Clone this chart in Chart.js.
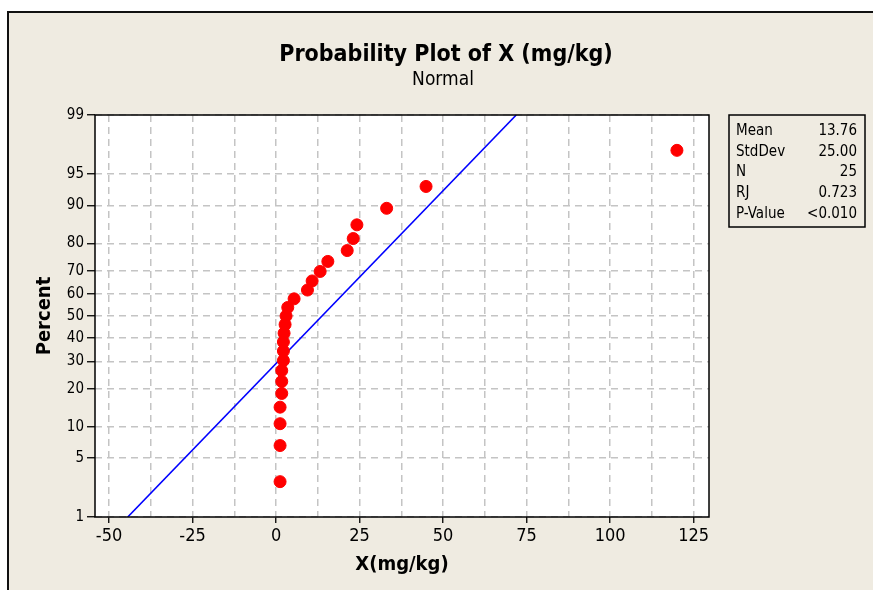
<!DOCTYPE html>
<html>
<head>
<meta charset="utf-8">
<script src="https://cdn.jsdelivr.net/npm/chart.js@4.4.1/dist/chart.umd.min.js"></script>
<style>
  html, body { margin: 0; padding: 0; background: #fff; }
  canvas { display: block; }
</style>
</head>
<body>
<canvas id="probPlot" width="874" height="590"></canvas>
<script>
// observed values (mg/kg), sorted
const xValues = [1.2, 1.2, 1.2, 1.2, 1.7, 1.7, 1.7, 2.2, 2.2, 2.2, 2.4, 2.7, 3.0,
                 3.5, 5.4, 9.4, 10.8, 13.2, 15.5, 21.3, 23.1, 24.2, 33.1, 44.9, 120.0];
// plotting positions (percent)
const percentValues = [2.76, 6.69, 10.63, 14.57, 18.50, 22.44, 26.38, 30.31, 34.25,
                       38.19, 42.13, 46.06, 50.00, 53.94, 57.87, 61.81, 65.75, 69.69,
                       73.62, 77.56, 81.50, 85.43, 89.37, 93.31, 97.24];
// fitted normal line end points
const fitX = [-44.4, 71.9];
const fitPercent = [1, 99];

const percentTicks = [1, 5, 10, 20, 30, 40, 50, 60, 70, 80, 90, 95, 99];
const xGrid = [-50, -37.5, -25, -12.5, 0, 12.5, 25, 37.5, 50, 62.5, 75, 87.5, 100, 112.5, 125];
const xMin = -54.2, xMax = 129.6;

const statLabels = ['Mean', 'StdDev', 'N', 'RJ', 'P-Value'];
const statValues = ['13.76', '25.00', '25', '0.723', '<0.010'];

const FONT = '"DejaVu Sans Condensed", "DejaVu Sans", sans-serif';
const BEIGE = '#efebe1';

// inverse normal cdf (Acklam) - used only to place the probability axis
function probit(p) {
  const a = [-3.969683028665376e+01, 2.209460984245205e+02, -2.759285104469687e+02,
             1.383577518672690e+02, -3.066479806614716e+01, 2.506628277459239e+00];
  const b = [-5.447609879822406e+01, 1.615858368580409e+02, -1.556989798598866e+02,
             6.680131188771972e+01, -1.328068155288572e+01];
  const c = [-7.784894002430293e-03, -3.223964580411365e-01, -2.400758277161838e+00,
             -2.549732539343734e+00, 4.374664141464968e+00, 2.938163982698783e+00];
  const d = [7.784695709041462e-03, 3.224671290700398e-01, 2.445134137142996e+00,
             3.754408661907416e+00];
  const pl = 0.02425;
  let q, r;
  if (p < pl) {
    q = Math.sqrt(-2 * Math.log(p));
    return (((((c[0]*q+c[1])*q+c[2])*q+c[3])*q+c[4])*q+c[5]) / ((((d[0]*q+d[1])*q+d[2])*q+d[3])*q+1);
  }
  if (p <= 1 - pl) {
    q = p - 0.5; r = q * q;
    return (((((a[0]*r+a[1])*r+a[2])*r+a[3])*r+a[4])*r+a[5])*q / (((((b[0]*r+b[1])*r+b[2])*r+b[3])*r+b[4])*r+1);
  }
  q = Math.sqrt(-2 * Math.log(1 - p));
  return -(((((c[0]*q+c[1])*q+c[2])*q+c[3])*q+c[4])*q+c[5]) / ((((d[0]*q+d[1])*q+d[2])*q+d[3])*q+1);
}
const z = pct => probit(pct / 100);

// background, frame, titles and the stats box
const decorations = {
  id: 'decorations',
  beforeDraw(chart) {
    const c = chart.ctx;
    c.save();
    c.fillStyle = '#fff';
    c.fillRect(0, 0, chart.width, chart.height);
    c.fillStyle = BEIGE;
    c.fillRect(7, 11, 866, chart.height - 11);
    c.strokeStyle = '#111';
    c.lineWidth = 2;
    c.beginPath();
    c.moveTo(7, 12); c.lineTo(873, 12);
    c.moveTo(8, 11); c.lineTo(8, chart.height);
    c.stroke();
    // plot area white
    const a = chart.chartArea;
    c.fillStyle = '#fff';
    c.fillRect(a.left, a.top, a.right - a.left, a.bottom - a.top);
    c.restore();
  },
  afterDraw(chart) {
    const c = chart.ctx;
    const a = chart.chartArea;
    c.save();
    c.strokeStyle = '#000';
    c.lineWidth = 1.5;
    c.strokeRect(a.left, a.top, a.right - a.left, a.bottom - a.top);

    c.fillStyle = '#000';
    c.textAlign = 'center';
    c.textBaseline = 'middle';
    c.font = 'bold 23px ' + FONT;
    c.fillText('Probability Plot of X (mg/kg)', 446, 55);
    c.font = '19px ' + FONT;
    c.fillText('Normal', 443, 80);

    c.font = 'bold 20px ' + FONT;
    c.fillText('X(mg/kg)', (a.left + a.right) / 2, 565);
    c.save();
    c.translate(45, (a.top + a.bottom) / 2);
    c.rotate(-Math.PI / 2);
    c.fillText('Percent', 0, 0);
    c.restore();

    // stats box
    c.lineWidth = 1.5;
    c.strokeRect(729, 115, 136, 112);
    c.font = '15px ' + FONT;
    statLabels.forEach((lab, i) => {
      const y = 131 + i * 20.8;
      c.textAlign = 'left';
      c.fillText(lab, 736, y);
      c.textAlign = 'right';
      c.fillText(statValues[i], 857, y);
    });
    c.restore();
  }
};

const ctx = document.getElementById('probPlot').getContext('2d');
const probChart = new Chart(ctx, {
  type: 'scatter',
  data: {
    datasets: [
      {
        label: 'Data',
        data: xValues.map((x, i) => ({ x: x, y: z(percentValues[i]) })),
        backgroundColor: '#ff0000',
        borderColor: '#ff0000',
        pointRadius: 6,
        pointHoverRadius: 6
      },
      {
        label: 'Fit',
        type: 'line',
        data: fitX.map((x, i) => ({ x: x, y: z(fitPercent[i]) })),
        borderColor: '#0000ff',
        borderWidth: 1.6,
        pointRadius: 0,
        fill: false
      }
    ]
  },
  options: {
    responsive: false,
    animation: false,
    layout: { padding: { left: 0, top: 115, right: 165, bottom: 0 } },
    plugins: {
      legend: { display: false },
      title: { display: false },
      tooltip: { enabled: false }
    },
    scales: {
      x: {
        type: 'linear',
        min: xMin,
        max: xMax,
        afterBuildTicks: scale => { scale.ticks = xGrid.map(v => ({ value: v })); },
        afterFit: scale => { scale.height = 73; },
        ticks: {
          autoSkip: false,
          maxRotation: 0,
          color: '#000',
          padding: 3,
          font: { family: FONT, size: 18 },
          callback: v => (v % 25 === 0 ? v : '')
        },
        grid: {
          color: '#c4c4c4',
          lineWidth: 1.5,
          tickLength: 6,
          tickWidth: 1.3,
          tickColor: c => (c.tick && c.tick.value % 25 === 0 ? '#000' : 'rgba(0,0,0,0)')
        },
        border: { display: false, dash: [7, 5] }
      },
      y: {
        type: 'linear',
        min: z(1),
        max: z(99),
        afterBuildTicks: scale => { scale.ticks = percentTicks.map(p => ({ value: z(p) })); },
        afterFit: scale => { scale.width = 95; },
        ticks: {
          autoSkip: false,
          color: '#000',
          padding: 3,
          font: { family: FONT, size: 15 },
          callback: (v, i) => percentTicks[i]
        },
        grid: {
          color: '#c4c4c4',
          lineWidth: 1.5,
          tickLength: 8,
          tickWidth: 1.3,
          tickColor: '#000'
        },
        border: { display: false, dash: [7, 5] }
      }
    }
  },
  plugins: [decorations]
});
</script>
</body>
</html>
